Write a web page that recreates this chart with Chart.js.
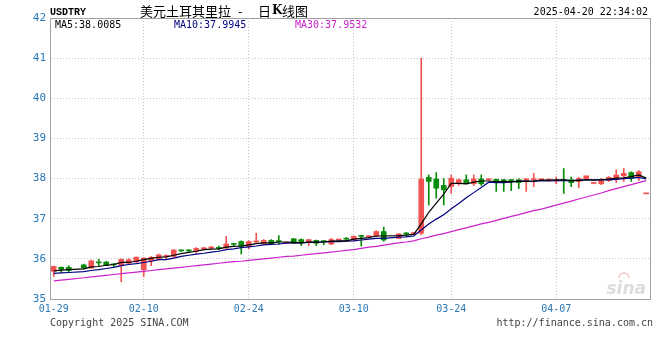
<!DOCTYPE html>
<html>
<head>
<meta charset="utf-8">
<script src="https://cdn.jsdelivr.net/npm/chart.js@4/dist/chart.umd.min.js"></script>
<style>
  html, body { margin: 0; padding: 0; background: #fff; }
</style>
</head>
<body>
<canvas id="kline" width="660" height="360"></canvas>
<script>
// daily slots shown on the chart
const dates = [
  "01-29","01-30","01-31",
  "02-01","02-02","02-03","02-04","02-05","02-06","02-07","02-08","02-09","02-10",
  "02-11","02-12","02-13","02-14","02-15","02-16","02-17","02-18","02-19","02-20",
  "02-21","02-22","02-23","02-24","02-25","02-26","02-27","02-28",
  "03-01","03-02","03-03","03-04","03-05","03-06","03-07","03-08","03-09","03-10",
  "03-11","03-12","03-13","03-14","03-15","03-17","03-18","03-19","03-20","03-21",
  "03-22","03-23","03-24","03-25","03-26","03-27","03-28","03-29","03-30","03-31",
  "04-01","04-02","04-03","04-04","04-05","04-06","04-07","04-08","04-09","04-10",
  "04-11","04-12","04-13","04-14","04-15","04-16","04-17","04-18","04-19"
];
const tickLabels = ["01-29", "02-10", "02-24", "03-10", "03-24", "04-07"];

const opens = [
  35.69,35.79,35.79,null,35.85,35.77,35.92,35.92,35.86,35.84,
  35.89,35.93,35.73,35.95,35.99,36.06,36.06,36.21,36.21,36.19,
  36.25,36.27,36.27,36.27,36.37,36.43,36.31,36.42,36.37,36.46,
  36.44,36.39,36.50,36.48,36.41,36.46,36.44,36.37,36.47,36.50,
  36.47,36.57,36.55,36.57,36.68,null,36.51,36.63,36.63,36.64,
  38.03,37.99,37.83,37.80,37.90,37.97,37.87,37.99,37.97,37.98,
  37.97,37.96,37.97,37.93,37.97,37.97,37.96,37.94,37.96,37.97,
  37.93,38.00,37.88,37.87,37.95,37.98,38.07,38.15,38.03,37.62
];
const highs = [
  35.82,35.80,35.83,null,35.87,35.97,35.99,35.94,35.88,36.00,
  36.00,36.05,36.03,36.06,36.12,36.10,36.23,36.22,36.22,36.28,
  36.29,36.31,36.32,36.56,36.38,36.45,36.45,36.64,36.48,36.48,
  36.58,36.40,36.51,36.50,36.48,36.47,36.45,36.51,36.49,36.53,
  36.57,36.59,36.58,36.70,36.79,null,36.63,36.66,36.66,41.00,
  38.09,38.15,38.00,38.09,37.99,38.09,38.09,38.09,37.99,37.99,
  37.98,37.97,37.99,38.00,38.13,37.99,37.99,38.04,38.25,38.04,
  38.03,38.05,37.89,38.00,38.05,38.22,38.25,38.17,38.20,37.63
];
const lows = [
  35.56,35.66,35.66,null,35.75,35.76,35.83,35.83,35.80,35.43,
  35.87,35.91,35.56,35.83,35.97,36.00,36.05,36.18,36.18,36.14,
  36.22,36.25,36.22,36.26,36.33,36.12,36.25,36.40,36.36,36.35,
  36.36,36.38,36.38,36.33,36.33,36.33,36.35,36.35,36.46,36.46,
  36.45,36.32,36.53,36.55,36.44,null,36.50,36.56,36.61,36.60,
  37.34,37.51,37.34,37.63,37.83,37.87,37.83,37.83,37.96,37.68,
  37.68,37.70,37.75,37.68,37.80,37.96,37.93,37.87,37.63,37.80,
  37.77,37.95,37.87,37.85,37.93,37.90,37.93,37.93,37.95,37.62
];
const closes = [
  35.81,35.74,35.71,null,35.77,35.95,35.90,35.85,35.85,35.99,
  35.98,36.04,36.02,36.04,36.10,36.07,36.22,36.20,36.20,36.26,
  36.26,36.28,36.26,36.37,36.36,36.31,36.43,36.43,36.46,36.37,
  36.43,36.40,36.39,36.41,36.48,36.39,36.43,36.48,36.48,36.49,
  36.56,36.56,36.56,36.68,36.47,null,36.62,36.62,36.64,37.99,
  37.93,37.76,37.72,38.01,37.97,37.87,37.99,37.87,37.98,37.91,
  37.90,37.95,37.90,37.99,37.98,37.98,37.97,37.95,37.95,37.90,
  38.00,38.07,37.88,37.98,38.03,38.09,38.13,38.01,38.17,37.63
];

const ma5 = [
  35.70,35.72,35.73,null,35.75,35.80,35.81,35.84,35.86,35.91,
  35.91,35.94,35.98,36.01,36.04,36.05,36.09,36.13,36.16,36.19,
  36.23,36.24,36.25,36.29,36.31,36.32,36.35,36.38,36.40,36.40,
  36.42,36.42,36.41,36.40,36.42,36.41,36.42,36.44,36.45,36.45,
  36.49,36.51,36.53,36.57,36.57,null,36.58,36.59,36.61,36.87,
  37.16,37.39,37.61,37.88,37.88,37.87,37.91,37.94,37.94,37.92,
  37.93,37.92,37.93,37.93,37.94,37.96,37.96,37.97,37.97,37.95,
  37.95,37.97,37.96,37.97,37.99,38.01,38.02,38.05,38.09,38.01
];
const ma10 = [
  35.64,35.65,35.66,null,35.68,35.71,35.73,35.76,35.79,35.83,
  35.86,35.88,35.91,35.94,35.98,35.98,36.02,36.06,36.09,36.12,
  36.14,36.17,36.19,36.23,36.25,36.28,36.30,36.32,36.35,36.36,
  36.37,36.39,36.40,36.40,36.41,36.42,36.42,36.43,36.43,36.44,
  36.45,36.47,36.49,36.51,36.51,null,36.54,36.55,36.57,36.72,
  36.87,36.99,37.10,37.25,37.38,37.52,37.65,37.78,37.91,37.90,
  37.90,37.92,37.94,37.94,37.93,37.95,37.94,37.95,37.95,37.95,
  37.96,37.97,37.97,37.97,37.97,37.98,38.00,38.01,38.03,37.99
];
const ma30 = [
  35.45,35.47,35.49,null,35.53,35.55,35.57,35.59,35.61,35.63,
  35.65,35.67,35.69,35.71,35.73,35.75,35.77,35.79,35.81,35.83,
  35.85,35.87,35.89,35.91,35.93,35.94,35.96,35.98,36.00,36.02,
  36.04,36.06,36.07,36.09,36.11,36.13,36.15,36.17,36.19,36.21,
  36.23,36.26,36.29,36.31,36.34,null,36.40,36.42,36.45,36.50,
  36.54,36.59,36.63,36.68,36.73,36.77,36.82,36.87,36.91,36.96,
  37.01,37.06,37.10,37.15,37.20,37.24,37.29,37.34,37.39,37.44,
  37.49,37.54,37.59,37.64,37.70,37.75,37.80,37.85,37.90,37.95
];

const UP = "#f25252";
const DOWN = "#0a8c0a";
const AXIS_TEXT = "#2a78b6";
const GRID = "#c4c4c4";
const MONO = "'DejaVu Sans Mono', 'Liberation Mono', monospace";

const candleColors = closes.map((c, i) => (c == null ? "rgba(0,0,0,0)" : c >= opens[i] ? UP : DOWN));
const wicks = lows.map((l, i) => (l == null ? null : [l, highs[i]]));
const bodies = opens.map((o, i) => (o == null ? null : [Math.min(o, closes[i]), Math.max(o, closes[i])]));

// MA legend values shown at the top of the plot
const maTexts = [
  { text: "MA5:38.0085", color: "#000000", x: 55 },
  { text: "MA10:37.9945", color: "#000080", x: 174 },
  { text: "MA30:37.9532", color: "#cc22cc", x: 295 }
];

// frame, header/footer texts and watermark
const decorations = {
  id: "decorations",
  beforeDatasetsDraw(chart) {
    const { ctx, chartArea: a } = chart;
    ctx.save();
    ctx.font = "italic bold 17px 'DejaVu Sans', sans-serif";
    ctx.fillStyle = "#dcdcdc";
    ctx.textAlign = "right";
    ctx.fillText("sina", a.right - 4, a.bottom - 5);
    ctx.strokeStyle = "#f0caca";
    ctx.lineWidth = 1.5;
    ctx.beginPath();
    ctx.arc(a.right - 26, a.bottom - 21, 5, Math.PI, 2 * Math.PI);
    ctx.stroke();
    ctx.restore();
  },
  afterDraw(chart) {
    const { ctx, chartArea: a } = chart;
    ctx.save();
    ctx.strokeStyle = "#a0a0a0";
    ctx.lineWidth = 1;
    ctx.beginPath();
    ctx.moveTo(a.left, a.top + 0.5);
    ctx.lineTo(a.right, a.top + 0.5);
    ctx.moveTo(a.right + 0.5, a.top);
    ctx.lineTo(a.right + 0.5, a.bottom);
    ctx.stroke();

    ctx.textBaseline = "middle";
    ctx.textAlign = "left";
    ctx.fillStyle = "#000";
    ctx.font = "bold 10px 'Liberation Mono', monospace";
    ctx.fillText("USDTRY", 50, 12);
    ctx.font = "13px 'Noto Sans CJK SC', sans-serif";
    ctx.fillText("美元土耳其里拉", 140, 11);
    ctx.fillText("-", 238, 11);
    ctx.fillText("日", 258, 11);
    ctx.font = "bold 12px 'DejaVu Serif', serif";
    ctx.fillText("K", 272, 11);
    ctx.font = "13px 'Noto Sans CJK SC', sans-serif";
    ctx.fillText("线图", 282, 11);

    ctx.font = "10px " + MONO;
    ctx.textAlign = "right";
    ctx.fillText("2025-04-20 22:34:02", 648, 12);

    ctx.textAlign = "left";
    maTexts.forEach((m) => {
      ctx.fillStyle = m.color;
      ctx.fillText(m.text, m.x, 25);
    });
    ctx.fillStyle = "#444";
    ctx.fillText("Copyright 2025 SINA.COM", 50, 323);
    ctx.textAlign = "right";
    ctx.fillText("http://finance.sina.com.cn", 653, 323);
    ctx.restore();
  }
};

new Chart(document.getElementById("kline"), {
  type: "bar",
  data: {
    labels: dates,
    datasets: [
      { type: "line", data: ma5, borderColor: "#000000", borderWidth: 1.2, pointRadius: 0, spanGaps: true, order: 0 },
      { type: "line", data: ma10, borderColor: "#000080", borderWidth: 1.2, pointRadius: 0, spanGaps: true, order: 0 },
      { type: "line", data: ma30, borderColor: "#cc22cc", borderWidth: 1.2, pointRadius: 0, spanGaps: true, order: 0 },
      { data: bodies, backgroundColor: candleColors, barThickness: 5, minBarLength: 1, grouped: false, order: 1 },
      { data: wicks, backgroundColor: candleColors, barThickness: 1, grouped: false, order: 2 }
    ]
  },
  options: {
    responsive: false,
    animation: false,
    devicePixelRatio: 1,
    layout: { padding: { top: 18, right: 10, left: 0, bottom: 0 } },
    plugins: { legend: { display: false }, tooltip: { enabled: false } },
    scales: {
      x: {
        offset: true,
        afterFit: (scale) => { scale.height = 61; },
        grid: {
          offset: false,
          drawTicks: false,
          color: (c) => (c.index > 0 && tickLabels.includes(dates[c.index]) ? GRID : "rgba(0,0,0,0)")
        },
        border: { display: true, color: "#a0a0a0", dash: [1, 2] },
        ticks: {
          autoSkip: false,
          maxRotation: 0,
          padding: 4,
          color: AXIS_TEXT,
          font: { family: MONO, size: 10 },
          callback: (v, i) => (tickLabels.includes(dates[i]) ? dates[i] : "")
        }
      },
      y: {
        min: 35,
        max: 42,
        afterFit: (scale) => { scale.width = 50; },
        grid: {
          drawTicks: false,
          color: (c) => (c.tick.value === 35 || c.tick.value === 42 ? "rgba(0,0,0,0)" : GRID)
        },
        border: { display: true, color: "#a0a0a0", dash: [1, 2] },
        ticks: {
          stepSize: 1,
          padding: 4,
          color: AXIS_TEXT,
          font: { family: MONO, size: 11 }
        }
      }
    }
  },
  plugins: [decorations]
});
</script>
</body>
</html>
